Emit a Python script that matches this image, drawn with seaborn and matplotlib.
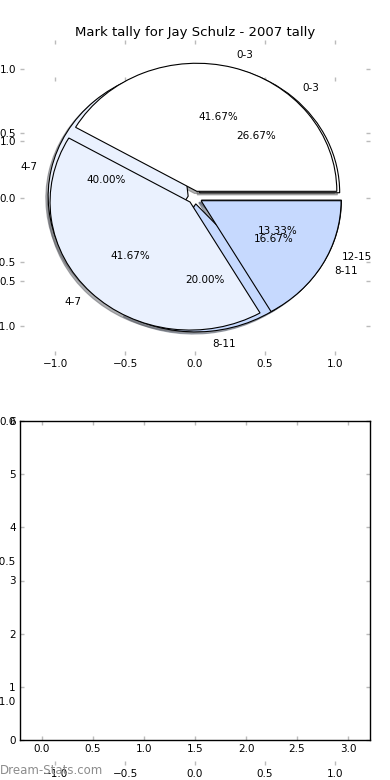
import numpy as np
import matplotlib
matplotlib.use('Agg')
import matplotlib.pyplot as plt
import seaborn as sns

sns.set_theme(style='white')
plt.rcParams['font.family'] = ['DejaVu Sans']
plt.rcParams['font.size'] = 7.5
plt.rcParams['text.color'] = 'black'
plt.rcParams['xtick.labelcolor'] = 'black'
plt.rcParams['ytick.labelcolor'] = 'black'

# mark tally data (two overlapping pies, as in the source page)
LABELS_A = ['0-3', '4-7', '8-11']
COUNTS_A = [5, 5, 2]
LABELS_B = ['0-3', '4-7', '8-11', '12-15']
COUNTS_B = [4, 6, 3, 2]

COLORS_A = ['#ffffff', '#eaf1fe', '#c6d9fe']
COLORS_B = ['#ffffff', '#eaf1fe', '#c6d9fe', '#a9c6fd']

PIE_TICKS = [-1.0, -0.5, 0.0, 0.5, 1.0]
BAR_XTICKS = [0.0, 0.5, 1.0, 1.5, 2.0, 2.5, 3.0]
BAR_YTICKS = [0, 1, 2, 3, 4, 5, 6]

TICK_COLOR = '#bbbbbb'
W, H = 390, 780


def box(x0, y0, x1, y1):
    # pixel box (top-left origin) -> figure fraction rect
    return [x0 / W, 1 - y1 / H, (x1 - x0) / W, (y1 - y0) / H]


def style_ticks(ax):
    ax.tick_params(axis='both', which='both', direction='in', length=3,
                   width=1, color=TICK_COLOR, labelcolor='black',
                   labelsize=7.5, pad=3,
                   top=True, right=True, bottom=True, left=True)


fig = plt.figure(figsize=(W / 100, H / 100), dpi=100)

# big leftover axes behind everything
ax_big = fig.add_axes(box(20, 77, 370, 765))
ax_big.set_xlim(-1.25, 1.25)
ax_big.set_ylim(-1.23, 1.23)
ax_big.set_xticks(PIE_TICKS)
ax_big.set_yticks(PIE_TICKS)
ax_big.set_frame_on(False)
style_ticks(ax_big)

# pie axes
ax = fig.add_axes(box(20, 40, 370, 355))
pie_kw = dict(autopct='%1.2f%%', pctdistance=0.6,
              shadow={'ox': -0.012, 'oy': -0.012, 'shade': 0.6},
              labeldistance=1.1, startangle=0,
              wedgeprops=dict(edgecolor='black', linewidth=0.8),
              textprops=dict(fontsize=7.5, color='black'), frame=True)
ax.pie(COUNTS_B, labels=LABELS_B, colors=COLORS_B,
       explode=[0.05] * len(COUNTS_B), **pie_kw)
ax.pie(COUNTS_A, labels=LABELS_A, colors=COLORS_A,
       explode=[0.05] * len(COUNTS_A), **pie_kw)
ax.set_aspect('auto')
ax.set_xlim(-1.25, 1.25)
ax.set_ylim(-1.23, 1.23)
ax.set_xticks(PIE_TICKS)
ax.set_yticks(PIE_TICKS)
ax.set_frame_on(False)
style_ticks(ax)
ax.set_title('Mark tally for Jay Schulz - 2007 tally', fontsize=9.5,
             pad=3, color='black')

# empty lower axes
ax2 = fig.add_axes(box(20, 421, 370, 740))
ax2.set_xlim(-0.215, 3.215)
ax2.set_ylim(0, 6)
ax2.set_xticks(BAR_XTICKS)
ax2.set_yticks(BAR_YTICKS)
for s in ax2.spines.values():
    s.set_color('black')
    s.set_linewidth(1)
style_ticks(ax2)

fig.text(0.0, 1 - 770 / H, 'Dream-Stats.com', color='#8c8c8c',
         fontsize=8.5, ha='left', va='center')

fig.savefig('out.png', dpi=100)
